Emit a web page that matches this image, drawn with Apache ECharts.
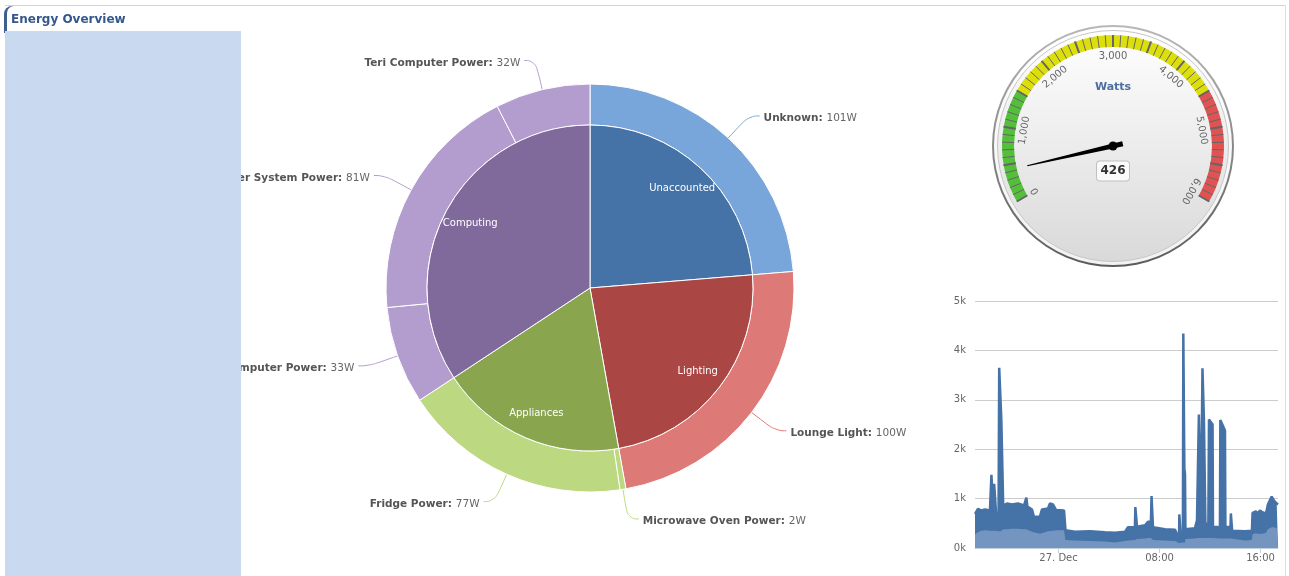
<!DOCTYPE html>
<html><head><meta charset="utf-8">
<script src="https://cdn.jsdelivr.net/npm/echarts@6/dist/echarts.min.js"></script>
<style>html,body{margin:0;padding:0;background:#fff}#c{width:1289px;height:576px}</style>
</head><body><div id="c"></div>
<script>
const FONT = 'DejaVu Sans';

// ---- pie data ----
const groupNames = ['Unaccounted', 'Lighting', 'Appliances', 'Computing'];
const groupValues = [101, 100, 79, 146];
const groupColors = ['#4572a7', '#aa4643', '#89a54e', '#80699b'];
const deviceNames = ['Unknown', 'Lounge Light', 'Microwave Oven Power', 'Fridge Power',
  'Study Computer Power', 'Home Theater System Power', 'Teri Computer Power'];
const deviceValues = [101, 100, 2, 77, 33, 81, 32];
const deviceColors = ['#78a5da', '#dd7976', '#bcd881', '#bcd881', '#b39cce', '#b39cce', '#b39cce'];

// ---- gauge data ----
const gaugeName = 'Watts';
const gaugeValue = 426;
const gaugeMin = 0, gaugeMax = 6000;
const gaugeBands = [[0.25, '#55BF3B'], [0.75, '#DDDF0D'], [1, '#DF5353']];

// ---- history data (minutes since start, upper / lower envelope in W) ----
const startTime = Date.UTC(2012, 11, 26, 17, 23);
const endMinutes = 1440;
const minutes = [0,14,29,48,71,78,86,88,91,98,101,112,115,123,125,132,134,152,176,204,233,244,249,271,280,309,318,347,356,371,385,423,430,475,546,618,665,713,727,760,762,766,770,808,822,836,839,843,846,903,951,960,970,971,974,977,988,990,993,995,998,1000,1045,1055,1062,1064,1071,1074,1079,1081,1087,1088,1093,1095,1109,1112,1129,1131,1164,1166,1188,1190,1214,1216,1219,1222,1283,1316,1319,1335,1345,1354,1368,1383,1392,1410,1421,1434,1440];
const upperW = [690,790,760,780,760,1480,1460,680,1300,1290,650,650,3650,3630,2620,2600,860,900,880,900,860,1020,840,780,630,640,780,800,900,880,770,760,360,330,340,320,310,330,420,420,830,830,430,460,530,530,1050,1050,420,380,370,280,300,680,680,280,280,4340,4330,1600,1500,380,400,560,560,2700,2680,520,520,3640,3620,2600,2580,480,490,2600,2500,430,420,2590,2380,430,420,700,700,350,340,350,710,740,700,760,720,700,880,1040,960,900,880];
const lowerW = [280,320,350,360,350,350,350,350,350,350,340,340,340,340,340,340,380,380,390,390,380,380,380,330,290,290,330,340,350,350,360,360,160,150,140,130,110,140,150,160,160,160,180,190,200,200,200,200,160,150,140,100,100,100,100,110,110,110,110,110,110,180,190,200,200,200,200,200,200,200,200,200,200,200,200,200,200,190,190,190,190,190,190,190,190,160,150,160,280,300,290,300,290,310,380,420,420,400,400];
const xTickTimes = [Date.UTC(2012, 11, 27, 0, 0), Date.UTC(2012, 11, 27, 8, 0), Date.UTC(2012, 11, 27, 16, 0)];
const yMax = 5000, yStep = 1000;

const toTime = m => startTime + m * 60000;
const upperData = minutes.map((m, i) => [toTime(m), upperW[i]]);
const lowerData = minutes.map((m, i) => [toTime(m), lowerW[i]]);

const GC = [1113, 146];
const grad = (a, b) => new echarts.graphic.LinearGradient(0, 0, 0, 1, [{offset: 0, color: a}, {offset: 1, color: b}]);

const chart = echarts.init(document.getElementById('c'), null, {renderer: 'canvas'});
chart.setOption({
  animation: false,
  textStyle: {fontFamily: FONT},
  grid: {left: 975, top: 301, width: 303, height: 247, outerBoundsMode: 'none'},
  xAxis: {
    type: 'value', min: toTime(0), max: toTime(endMinutes),
    axisLine: {show: true, lineStyle: {color: '#C0D0E0'}},
    axisTick: {show: true, customValues: xTickTimes, length: 5, lineStyle: {color: '#C0D0E0'}},
    splitLine: {show: false},
    axisLabel: {
      customValues: xTickTimes, color: '#666', fontSize: 10, margin: 5, fontFamily: FONT,
      formatter: v => {
        const d = new Date(v);
        const h = d.getUTCHours(), mi = d.getUTCMinutes();
        if (h === 0 && mi === 0) return d.getUTCDate() + '. Dec';
        return String(h).padStart(2, '0') + ':' + String(mi).padStart(2, '0');
      }
    }
  },
  yAxis: {
    type: 'value', min: 0, max: yMax, interval: yStep,
    axisLine: {show: false}, axisTick: {show: false},
    splitLine: {lineStyle: {color: '#cccccc'}},
    axisLabel: {color: '#666', fontSize: 10, margin: 9, fontFamily: FONT, formatter: v => (v / 1000) + 'k'}
  },
  graphic: [
    {type: 'line', shape: {x1: 5, y1: 5.5, x2: 1285, y2: 5.5}, style: {stroke: '#d4d4d4', lineWidth: 1}, z: 1},
    {type: 'line', shape: {x1: 1285.5, y1: 5, x2: 1285.5, y2: 576}, style: {stroke: '#d6e0ea', lineWidth: 1}, z: 1},
    {type: 'circle', shape: {cx: GC[0], cy: GC[1], r: 121}, style: {fill: grad('#b8b8b8', '#5a5a5a')}, z: 0},
    {type: 'circle', shape: {cx: GC[0], cy: GC[1], r: 119}, style: {fill: grad('#ffffff', '#f2f2f2')}, z: 0},
    {type: 'circle', shape: {cx: GC[0], cy: GC[1], r: 115.5}, style: {fill: grad('#ffffff', '#d9d9d9'), stroke: '#c6c6c6', lineWidth: 1}, z: 0},
    {type: 'rect', shape: {x: 4, y: 6, width: 10, height: 27, r: [8, 0, 0, 0]}, style: {fill: '#3d5f90'}, z: 100},
    {type: 'rect', shape: {x: 7, y: 6, width: 234, height: 25, r: [7, 0, 0, 0]}, style: {fill: '#ffffff'}, z: 101},
    {type: 'text', x: 11, y: 20, style: {text: 'Energy Overview', font: 'bold 12px "DejaVu Sans"', fill: '#34588c', verticalAlign: 'middle'}, z: 102},
    {type: 'rect', shape: {x: 5, y: 31, width: 236, height: 545}, style: {fill: '#c9daf0'}, z: 100}
  ],
  series: [
    {
      type: 'pie', center: [590, 288], radius: [163, 204], startAngle: 90, clockwise: true,
      avoidLabelOverlap: false, silent: true,
      itemStyle: {borderColor: '#fff', borderWidth: 1},
      label: {
        show: true, position: 'outside', distanceToLabelLine: 4, padding: [5, 0, 0, 0],
        formatter: '{n|{b}:} {v|{c}W}',
        rich: {
          n: {fontWeight: 'bold', color: '#555', fontSize: 10.5, fontFamily: FONT},
          v: {color: '#666', fontSize: 10.5, fontFamily: FONT}
        }
      },
      labelLine: {show: true, length: 30, length2: 11, smooth: 0.5, lineStyle: {width: 1}},
      emphasis: {disabled: true},
      data: deviceNames.map((n, i) => ({name: n, value: deviceValues[i], itemStyle: {color: deviceColors[i]}}))
    },
    {
      type: 'pie', center: [590, 288], radius: [0, 163], startAngle: 90, clockwise: true, silent: true,
      itemStyle: {borderColor: '#fff', borderWidth: 1},
      label: {show: false}, labelLine: {show: false},
      emphasis: {disabled: true},
      data: groupNames.map((n, i) => ({name: n, value: groupValues[i], itemStyle: {color: groupColors[i]}}))
    },
    {
      type: 'pie', center: [590, 288], radius: [103, 163], startAngle: 90, clockwise: true, silent: true,
      itemStyle: {color: 'rgba(0,0,0,0)', borderWidth: 0},
      label: {show: true, position: 'inside', color: '#fff', fontSize: 10, fontFamily: FONT, rotate: 0, padding: [4, 0, 0, 0]},
      labelLine: {show: false},
      emphasis: {disabled: true},
      data: groupNames.map((n, i) => ({name: n, value: groupValues[i]}))
    },
    {
      type: 'gauge', center: GC, radius: 111, startAngle: 210, endAngle: -30,
      min: gaugeMin, max: gaugeMax, splitNumber: 12, silent: true,
      axisLine: {lineStyle: {width: 12, color: gaugeBands}},
      splitLine: {distance: -12, length: 12, lineStyle: {color: '#666', width: 2}},
      axisTick: {distance: -12, length: 12, splitNumber: 5, lineStyle: {color: '#666', width: 1}},
      axisLabel: {
        distance: 21, rotate: 'tangential', color: '#666', fontSize: 10, fontFamily: FONT,
        formatter: v => { const r = Math.round(v); return r % 1000 === 0 ? r.toLocaleString('en-US') : ''; }
      },
      pointer: {
        icon: 'path://M4,0 L6,0 L10,88 L10,100 L0,100 L0,88 Z',
        length: 98, width: 5, offsetCenter: [0, 10], itemStyle: {color: '#000'}
      },
      anchor: {show: true, showAbove: true, size: 9, itemStyle: {color: '#000'}},
      title: {offsetCenter: [0, -59], color: '#4d6fa0', fontSize: 11, fontWeight: 'bold', fontFamily: FONT},
      detail: {
        offsetCenter: [0, 25], formatter: '{value}', fontSize: 12, fontWeight: 'bold', color: '#333',
        fontFamily: FONT, backgroundColor: '#fafafa', borderColor: '#c0c0c0', borderWidth: 1,
        borderRadius: 3, width: 24, height: 14, lineHeight: 14, padding: [3, 4, 2, 4]
      },
      data: [{value: gaugeValue, name: gaugeName}]
    },
    {
      type: 'line', data: upperData, symbol: 'none', showSymbol: false, silent: true,
      lineStyle: {color: '#4572a7', width: 2.5},
      areaStyle: {color: '#4572a7', opacity: 1},
      z: 2
    },
    {
      type: 'line', data: lowerData, symbol: 'none', showSymbol: false, silent: true,
      lineStyle: {width: 0, color: '#7395bf'},
      areaStyle: {color: '#7395bf', opacity: 1},
      z: 3
    }
  ]
});
</script>
</body></html>
